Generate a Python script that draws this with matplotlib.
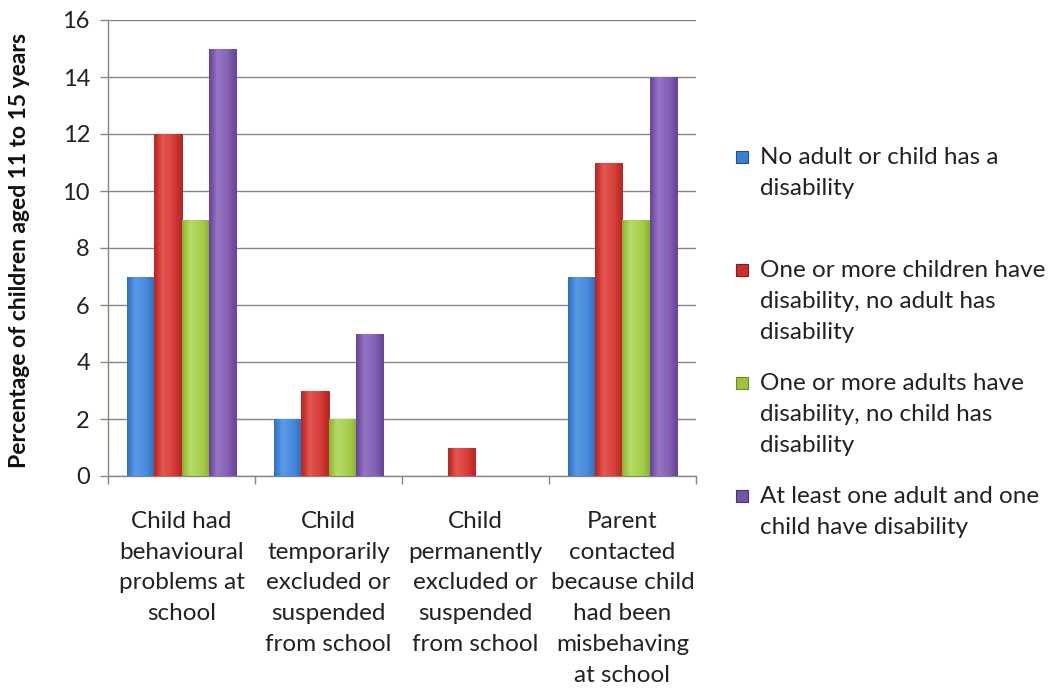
import numpy as np
import matplotlib
matplotlib.use('Agg')
import matplotlib.pyplot as plt
from matplotlib.patches import Rectangle
from matplotlib.colors import LinearSegmentedColormap

plt.rcParams['font.family'] = ['Lato', 'DejaVu Sans']

# data
categories = ['Child had\nbehavioural\nproblems at\nschool',
              'Child\ntemporarily\nexcluded or\nsuspended\nfrom school',
              'Child\npermanently\nexcluded or\nsuspended\nfrom school',
              'Parent\ncontacted\nbecause child\nhad been\nmisbehaving\nat school']
series_names = ['No adult or child has a\ndisability',
                'One or more children have\ndisability, no adult has\ndisability',
                'One or more adults have\ndisability, no child has\ndisability',
                'At least one adult and one\nchild have disability']
no_disability = [7, 2, 0, 7]
child_only = [12, 3, 1, 11]
adult_only = [9, 2, 0, 9]
adult_and_child = [15, 5, 0, 14]
values = [no_disability, child_only, adult_only, adult_and_child]

# (dark edge, main, highlight) per series
palette = [('#1f4f94', '#3a7fd3', '#6aa6ee'),
           ('#8e1c1a', '#cc302c', '#ee6a64'),
           ('#6a8c22', '#9bc53d', '#c4e47a'),
           ('#4a2f72', '#7652a8', '#a588d0')]

fig = plt.figure(figsize=(10.54, 6.95), dpi=100)
ax = fig.add_axes([108 / 1054, 1 - 476 / 695, 588 / 1054, 456 / 695])

x = np.arange(len(categories))
w = 0.184
grad = np.linspace(0, 1, 64)
shade = np.interp(grad, [0, 0.3, 0.7, 1], [0.0, 1.0, 0.6, 0.0]).reshape(1, -1)

for j, vals in enumerate(values):
    dark, main, light = palette[j]
    cmap = LinearSegmentedColormap.from_list('s%d' % j, [dark, main, light])
    bars = ax.bar(x + (j - 1.5) * w, vals, width=w, color=main,
                  edgecolor=dark, linewidth=0.6, zorder=3)
    for b in bars:
        if b.get_height() <= 0:
            continue
        x0, y0 = b.get_x(), b.get_y()
        im = ax.imshow(shade, cmap=cmap, vmin=-0.6, vmax=1.3, aspect='auto',
                       extent=[x0, x0 + b.get_width(), y0, y0 + b.get_height()],
                       zorder=3.5, interpolation='bilinear')
        im.set_clip_path(b)

ax.set_xlim(-0.5, 3.5)
ax.set_ylim(0, 16)
ax.set_yticks(np.arange(0, 17, 2))
ax.yaxis.grid(True, color='#868686', linewidth=1)
ax.set_axisbelow(True)

ax.set_xticks(x)
ax.set_xticklabels(categories, fontsize=17.5, color='#222222', linespacing=1.58)
ax.set_xticks(np.arange(-0.5, 4, 1), minor=True)
ax.tick_params(axis='x', which='major', length=0, pad=25)
ax.tick_params(axis='x', which='minor', length=6, color='#868686', width=1)
ax.tick_params(axis='y', length=6, color='#868686', width=1, pad=7,
               labelsize=17, labelcolor='#222222')

for s in ['top', 'right']:
    ax.spines[s].set_visible(False)
for s in ['left', 'bottom']:
    ax.spines[s].set_color('#868686')
    ax.spines[s].set_linewidth(1)

fig.text(20 / 1054, 1 - 250 / 695, 'Percentage of children aged 11 to 15 years',
         rotation=90, ha='center', va='center', fontsize=16.5, fontweight='bold',
         color='#111111')

# legend, first-line aligned like the original
legend_y = [157, 270, 383, 496]
for j, name in enumerate(series_names):
    dark, main, light = palette[j]
    yy = 1 - legend_y[j] / 695
    fig.patches.append(Rectangle((736 / 1054, yy - 6 / 695), 12 / 1054, 12 / 695,
                                 transform=fig.transFigure, facecolor=main,
                                 edgecolor=dark, linewidth=0.8))
    fig.text(760 / 1054, yy + 10 / 695, name, ha='left', va='top', fontsize=17.5,
             color='#222222', linespacing=1.58)

fig.savefig('out.png', dpi=100)
